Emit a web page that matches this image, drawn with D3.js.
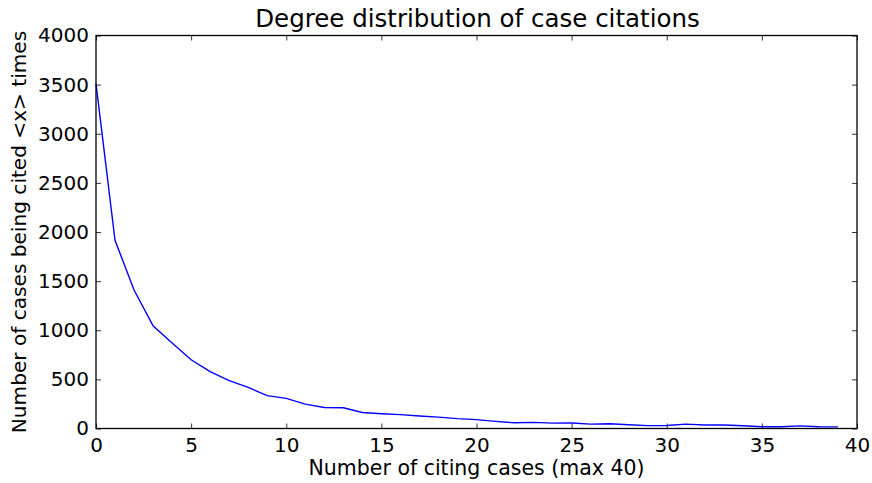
<!DOCTYPE html>
<html>
<head>
<meta charset="utf-8">
<script src="https://cdn.jsdelivr.net/npm/d3@7"></script>
<style>
  body { margin: 0; background: #fff; }
  text { font-family: "DejaVu Sans", sans-serif; fill: #000; }
</style>
</head>
<body>
<div id="chart"></div>
<script>
// citing-case counts 0..39 and how many cases got cited that many times
const citingCases = d3.range(0, 40);
const casesCited = [3510, 1915, 1410, 1045, 870, 700, 578, 487, 418, 335,
                    307, 248, 214, 211, 163, 150, 141, 127, 116, 100,
                    90, 72, 58, 62, 55, 56, 45, 48, 38, 29,
                    31, 45, 35, 36, 28, 18, 18, 27, 18, 17];
const xTicks = [0, 5, 10, 15, 20, 25, 30, 35, 40];
const yTicks = [0, 500, 1000, 1500, 2000, 2500, 3000, 3500, 4000];

const W = 872, H = 483;
const margin = { top: 35.5, right: 15, bottom: 54.5, left: 96 };
const width = W - margin.left - margin.right,
      height = H - margin.top - margin.bottom;

const svg = d3.select("#chart").append("svg")
    .attr("width", W)
    .attr("height", H);

const g = svg.append("g")
    .attr("transform", "translate(" + margin.left + "," + margin.top + ")");

const x = d3.scaleLinear().domain([0, 40]).range([0, width]);
const y = d3.scaleLinear().domain([0, 4000]).range([height, 0]);

// ticks pointing inwards on every side, matplotlib classic look
const tickLen = 5;
function styleAxis(sel) {
    sel.select(".domain").remove();
    sel.selectAll(".tick line").attr("stroke", "#000").attr("stroke-width", 0.8);
    sel.selectAll(".tick text").style("font-size", "20px").attr("fill", "#000");
}

g.append("g")
    .attr("transform", "translate(0," + height + ")")
    .call(d3.axisBottom(x).tickValues(xTicks).tickSizeInner(-tickLen).tickSizeOuter(0)
        .tickPadding(9).tickFormat(d3.format("d")))
    .call(styleAxis);
g.append("g")
    .call(d3.axisTop(x).tickValues(xTicks).tickSizeInner(-tickLen).tickSizeOuter(0).tickFormat(""))
    .call(styleAxis);
g.append("g")
    .call(d3.axisLeft(y).tickValues(yTicks).tickSizeInner(-tickLen).tickSizeOuter(0)
        .tickPadding(7).tickFormat(d3.format("d")))
    .call(styleAxis);
g.append("g")
    .attr("transform", "translate(" + width + ",0)")
    .call(d3.axisRight(y).tickValues(yTicks).tickSizeInner(-tickLen).tickSizeOuter(0).tickFormat(""))
    .call(styleAxis);

const line = d3.line()
    .x((d, i) => x(citingCases[i]))
    .y(d => y(d));

g.append("path")
    .datum(casesCited)
    .attr("fill", "none")
    .attr("stroke", "#0000ff")
    .attr("stroke-width", 1.4)
    .attr("d", line);

g.append("rect")
    .attr("width", width)
    .attr("height", height)
    .attr("fill", "none")
    .attr("stroke", "#000")
    .attr("stroke-width", 1.3);

svg.append("text")
    .attr("x", margin.left + width / 2 + 1)
    .attr("y", 27)
    .attr("text-anchor", "middle")
    .style("font-size", "24.5px")
    .text("Degree distribution of case citations");

svg.append("text")
    .attr("x", margin.left + width / 2)
    .attr("y", 475)
    .attr("text-anchor", "middle")
    .style("font-size", "20.5px")
    .text("Number of citing cases (max 40)");

svg.append("text")
    .attr("transform", "translate(26," + (margin.top + height / 2) + ") rotate(-90)")
    .attr("text-anchor", "middle")
    .style("font-size", "20.1px")
    .text("Number of cases being cited <x> times");
</script>
</body>
</html>
